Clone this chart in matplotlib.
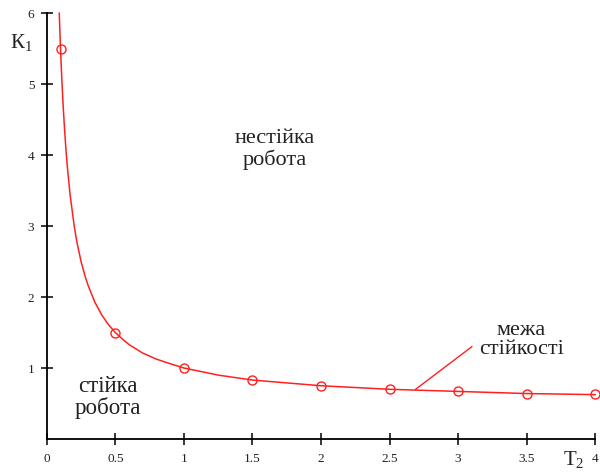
import matplotlib
matplotlib.use("Agg")
import matplotlib.pyplot as plt

plt.rcParams["mathtext.fontset"] = "custom"
plt.rcParams["mathtext.rm"] = "Liberation Serif"
plt.rcParams["mathtext.it"] = "Liberation Serif:italic"

# Boundary curve K1(T2)
curve_t = [0.091, 0.095, 0.10, 0.11, 0.12, 0.13, 0.14, 0.15, 0.17, 0.20, 0.22,
           0.25, 0.28, 0.30, 0.35, 0.40, 0.45, 0.50, 0.55, 0.60, 0.70, 0.80,
           0.90, 1.00, 1.25, 1.50, 1.75, 2.00, 2.50, 3.00, 3.50, 4.00]
curve_k = [6.00, 5.76, 5.50, 5.05, 4.67, 4.35, 4.07, 3.83, 3.44, 3.00, 2.77,
           2.50, 2.29, 2.17, 1.93, 1.75, 1.61, 1.50, 1.41, 1.33, 1.21, 1.125,
           1.06, 1.00, 0.90, 0.83, 0.79, 0.75, 0.70, 0.67, 0.64, 0.625]

# Marked points
mark_t = [0.1, 0.5, 1.0, 1.5, 2.0, 2.5, 3.0, 3.5, 4.0]
mark_k = [5.5, 1.5, 1.0, 0.83, 0.75, 0.70, 0.67, 0.63, 0.63]

x_ticks = [0, 0.5, 1, 1.5, 2, 2.5, 3, 3.5, 4]
x_labels = ["0", "0.5", "1", "1.5", "2", "2.5", "3", "3.5", "4"]
y_ticks = [1, 2, 3, 4, 5, 6]
y_labels = ["1", "2", "3", "4", "5", "6"]

serif = ["Liberation Serif", "DejaVu Serif"]
red = "#ff2020"
txt = "#222222"

fig = plt.figure(figsize=(6.0, 4.72), dpi=100)
ax = fig.add_axes([0.078, 0.07, 0.914, 0.902])

ax.plot(curve_t, curve_k, color=red, lw=1.1, clip_on=False)
ax.plot(mark_t, mark_k, ls="none", marker="o", ms=6.5, mfc="none",
        mec=red, mew=1.0, clip_on=False)

# leader line for "межа стійкості"
ax.plot([2.69, 3.10], [0.70, 1.30], color=red, lw=1.0)

ax.set_xlim(0, 4)
ax.set_ylim(0, 6)
ax.spines["top"].set_visible(False)
ax.spines["right"].set_visible(False)
ax.spines["left"].set_linewidth(1.3)
ax.spines["bottom"].set_linewidth(1.3)
ax.set_xticks(x_ticks)
ax.set_xticklabels(x_labels, fontfamily=serif, fontsize=9.5, color=txt)
ax.set_yticks(y_ticks)
ax.set_yticklabels(y_labels, fontfamily=serif, fontsize=9.5, color=txt)
ax.tick_params(direction="inout", length=8, width=1.1)
ax.tick_params(axis="x", pad=6)
ax.tick_params(axis="y", pad=5)

ax.text(1.66, 4.08, "нестійка\nробота", ha="center", va="center",
        fontfamily=serif, fontsize=16, color=txt, linespacing=1.05)
ax.text(0.445, 0.59, "стійка\nробота", ha="center", va="center",
        fontfamily=serif, fontsize=16.5, color=txt, linespacing=1.0)
ax.text(3.46, 1.39, "межа\nстійкості", ha="center", va="center",
        fontfamily=serif, fontsize=16, color=txt, linespacing=1.0)

fig.text(0.036, 0.91, "К$_1$", ha="center", va="center",
         fontfamily=serif, fontsize=15, color=txt)
fig.text(0.957, 0.026, "Т$_2$", ha="center", va="center",
         fontfamily=serif, fontsize=15, color=txt)

fig.savefig("out.png", dpi=100)
